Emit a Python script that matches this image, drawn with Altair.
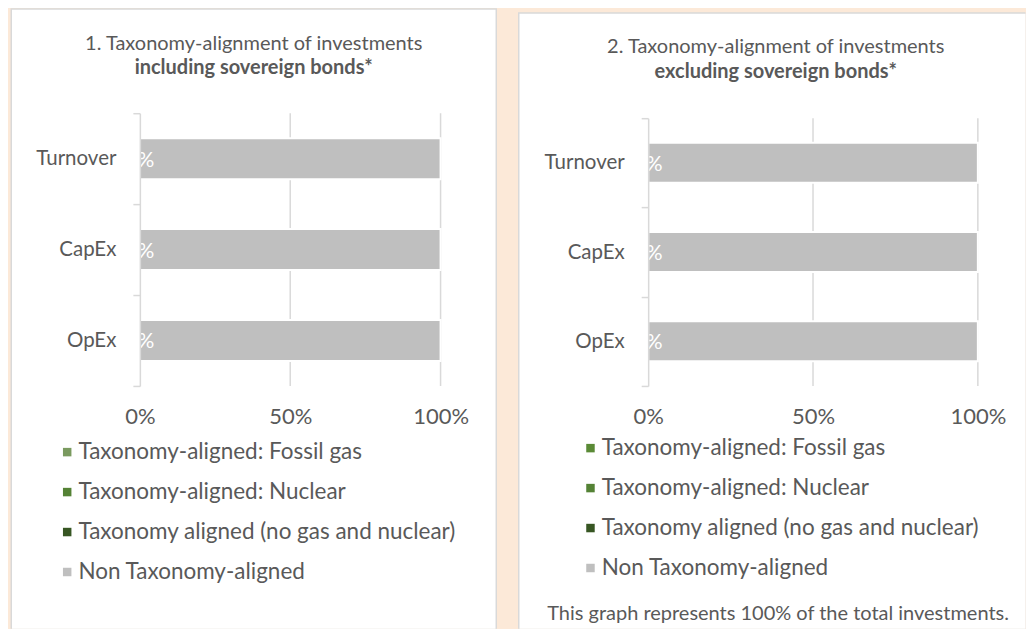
import altair as alt
import pandas as pd

FONT = "Lato"
TXT = "#595959"
GRID = "#D9D9D9"
BG = "#FCE9D8"

categories = ["Turnover", "CapEx", "OpEx"]
series = [
    "Taxonomy-aligned: Fossil gas",
    "Taxonomy-aligned: Nuclear",
    "Taxonomy aligned (no gas and nuclear)",
    "Non Taxonomy-aligned",
]

# panel 1: including sovereign bonds (share of investments)
incl_fossil = [0.0, 0.0, 0.0]
incl_nuclear = [0.0, 0.0, 0.0]
incl_aligned = [0.0, 0.0, 0.0]
incl_non = [1.0, 1.0, 1.0]

# panel 2: excluding sovereign bonds
excl_fossil = [0.0, 0.0, 0.0]
excl_nuclear = [0.0, 0.0, 0.0]
excl_aligned = [0.0, 0.0, 0.0]
excl_non = [1.0, 1.0, 1.0]

x_ticks = [0.0, 0.5, 1.0]

colors_incl = ["#7A9A5F", "#548235", "#375623", "#BFBFBF"]
colors_excl = ["#5A8A36", "#548235", "#375623", "#BFBFBF"]

title_incl = ["1. Taxonomy-alignment of investments", "including sovereign bonds*"]
title_excl = ["2. Taxonomy-alignment of investments", "excluding sovereign bonds*"]
footnote = ["This graph represents 100% of the total investments."]


def make_df(cols):
    rows = []
    for si, (s, vals) in enumerate(zip(series, cols)):
        for c, v in zip(categories, vals):
            rows.append({"category": c, "series": s, "order": si, "value": v})
    return pd.DataFrame(rows)


def text_layer(lines, x, y, size, weight="normal"):
    d = pd.DataFrame({"t": lines})
    return alt.Chart(d).mark_text(font=FONT, fontSize=size, fontWeight=weight, color=TXT,
                                  align="center", baseline="alphabetic").encode(
        x=alt.value(x), y=alt.value(y), text="t:N")


def panel(cols, colors, titles, w, h, yrange, bar_size, gray_box, white_box,
          title_pos, leg_x, leg_y, note=None, note_pos=None):
    df = make_df(cols)
    one = pd.DataFrame({"k": [0]})
    grid_df = pd.DataFrame({"tick": x_ticks})

    border = alt.Chart(one).mark_rect(color=GRID).encode(
        x=alt.value(gray_box[0]), x2=alt.value(gray_box[1]),
        y=alt.value(gray_box[2]), y2=alt.value(gray_box[3]))
    box = alt.Chart(one).mark_rect(color="white").encode(
        x=alt.value(white_box[0]), x2=alt.value(white_box[1]),
        y=alt.value(white_box[2]), y2=alt.value(white_box[3]))

    xscale = alt.Scale(domain=[0, 1], nice=False, zero=True)
    yscale = alt.Scale(domain=categories, paddingInner=0, paddingOuter=0, range=yrange)

    grid = alt.Chart(grid_df).transform_filter("datum.tick > 0").mark_rule(
        color=GRID, strokeWidth=1.5).encode(
        x=alt.X("tick:Q", scale=xscale),
        y=alt.value(yrange[0]), y2=alt.value(yrange[1]))

    bars = alt.Chart(df).mark_bar(size=bar_size, stroke="white", strokeWidth=2).encode(
        x=alt.X("value:Q", stack="zero", scale=xscale,
                axis=alt.Axis(values=x_ticks, format=".0%", grid=False, domain=False,
                              ticks=False, tickSize=0, labelFontSize=22, labelFont=FONT,
                              labelColor=TXT, labelPadding=21, labelFlush=False,
                              zindex=1, title=None)),
        y=alt.Y("category:N", sort=categories, scale=yscale,
                axis=alt.Axis(title=None, tickBand="extent", tickSize=7, tickWidth=1.5,
                              tickColor=GRID, domainColor=GRID, domainWidth=1.5,
                              labelFontSize=20.5, labelFont=FONT, labelColor=TXT,
                              labelPadding=17, zindex=1)),
        color=alt.Color("series:N", scale=alt.Scale(domain=series, range=colors),
                        legend=alt.Legend(title=None, orient="none", legendX=leg_x,
                                          legendY=leg_y, symbolType="square",
                                          symbolSize=72, symbolStrokeWidth=0,
                                          labelFontSize=22.5, labelFont=FONT,
                                          labelColor=TXT, labelLimit=700,
                                          rowPadding=17, labelOffset=0, padding=0)),
        order=alt.Order("order:Q"),
    )

    labels = alt.Chart(df).transform_stack(
        stack="value", as_=["v0", "v1"], groupby=["category"],
        sort=[alt.SortField("order")]).transform_calculate(
        mid="(datum.v0 + datum.v1) / 2").transform_filter(
        alt.datum.series == series[2]).mark_text(
        color="white", fontSize=21, font=FONT, baseline="middle", dy=2).encode(
        x=alt.X("mid:Q", scale=xscale),
        y=alt.Y("category:N", sort=categories, scale=yscale),
        text=alt.Text("value:Q", format=".0%"))

    t1 = text_layer([titles[0]], title_pos[0], title_pos[1], 20)
    t2 = text_layer([titles[1]], title_pos[0], title_pos[2], 20, "bold")

    layers = [border, box, grid, bars, labels, t1, t2]
    if note is not None:
        layers.append(text_layer(note, note_pos[0], note_pos[1], 20))

    return alt.layer(*layers).properties(width=w, height=h)


left = panel([incl_fossil, incl_nuclear, incl_aligned, incl_non], colors_incl, title_incl,
             301, 273, [0, 273], 41,
             gray_box=[-129.5, 357.5, -105, 516], white_box=[-128, 356, -103.5, 516],
             title_pos=(114, -63, -39), leg_x=-84, leg_y=328)

right = panel([excl_fossil, excl_nuclear, excl_aligned, excl_non], colors_excl, title_excl,
              330, 273, [5, 273], 40,
              gray_box=[-130.3, 377.7, -101, 516], white_box=[-128.8, 377.7, -99.5, 516],
              title_pos=(127.7, -60, -35), leg_x=-69, leg_y=324,
              note=footnote, note_pos=(130, 507))

chart = alt.hconcat(left, right, spacing=207.8, bounds="flush").resolve_scale(
    color="independent").properties(
    padding={"left": 2, "top": 0, "right": 0, "bottom": 0}).configure(
    background=BG).configure_view(strokeWidth=0)

chart.save("out.html", embed_options={"renderer": "svg", "actions": False})
